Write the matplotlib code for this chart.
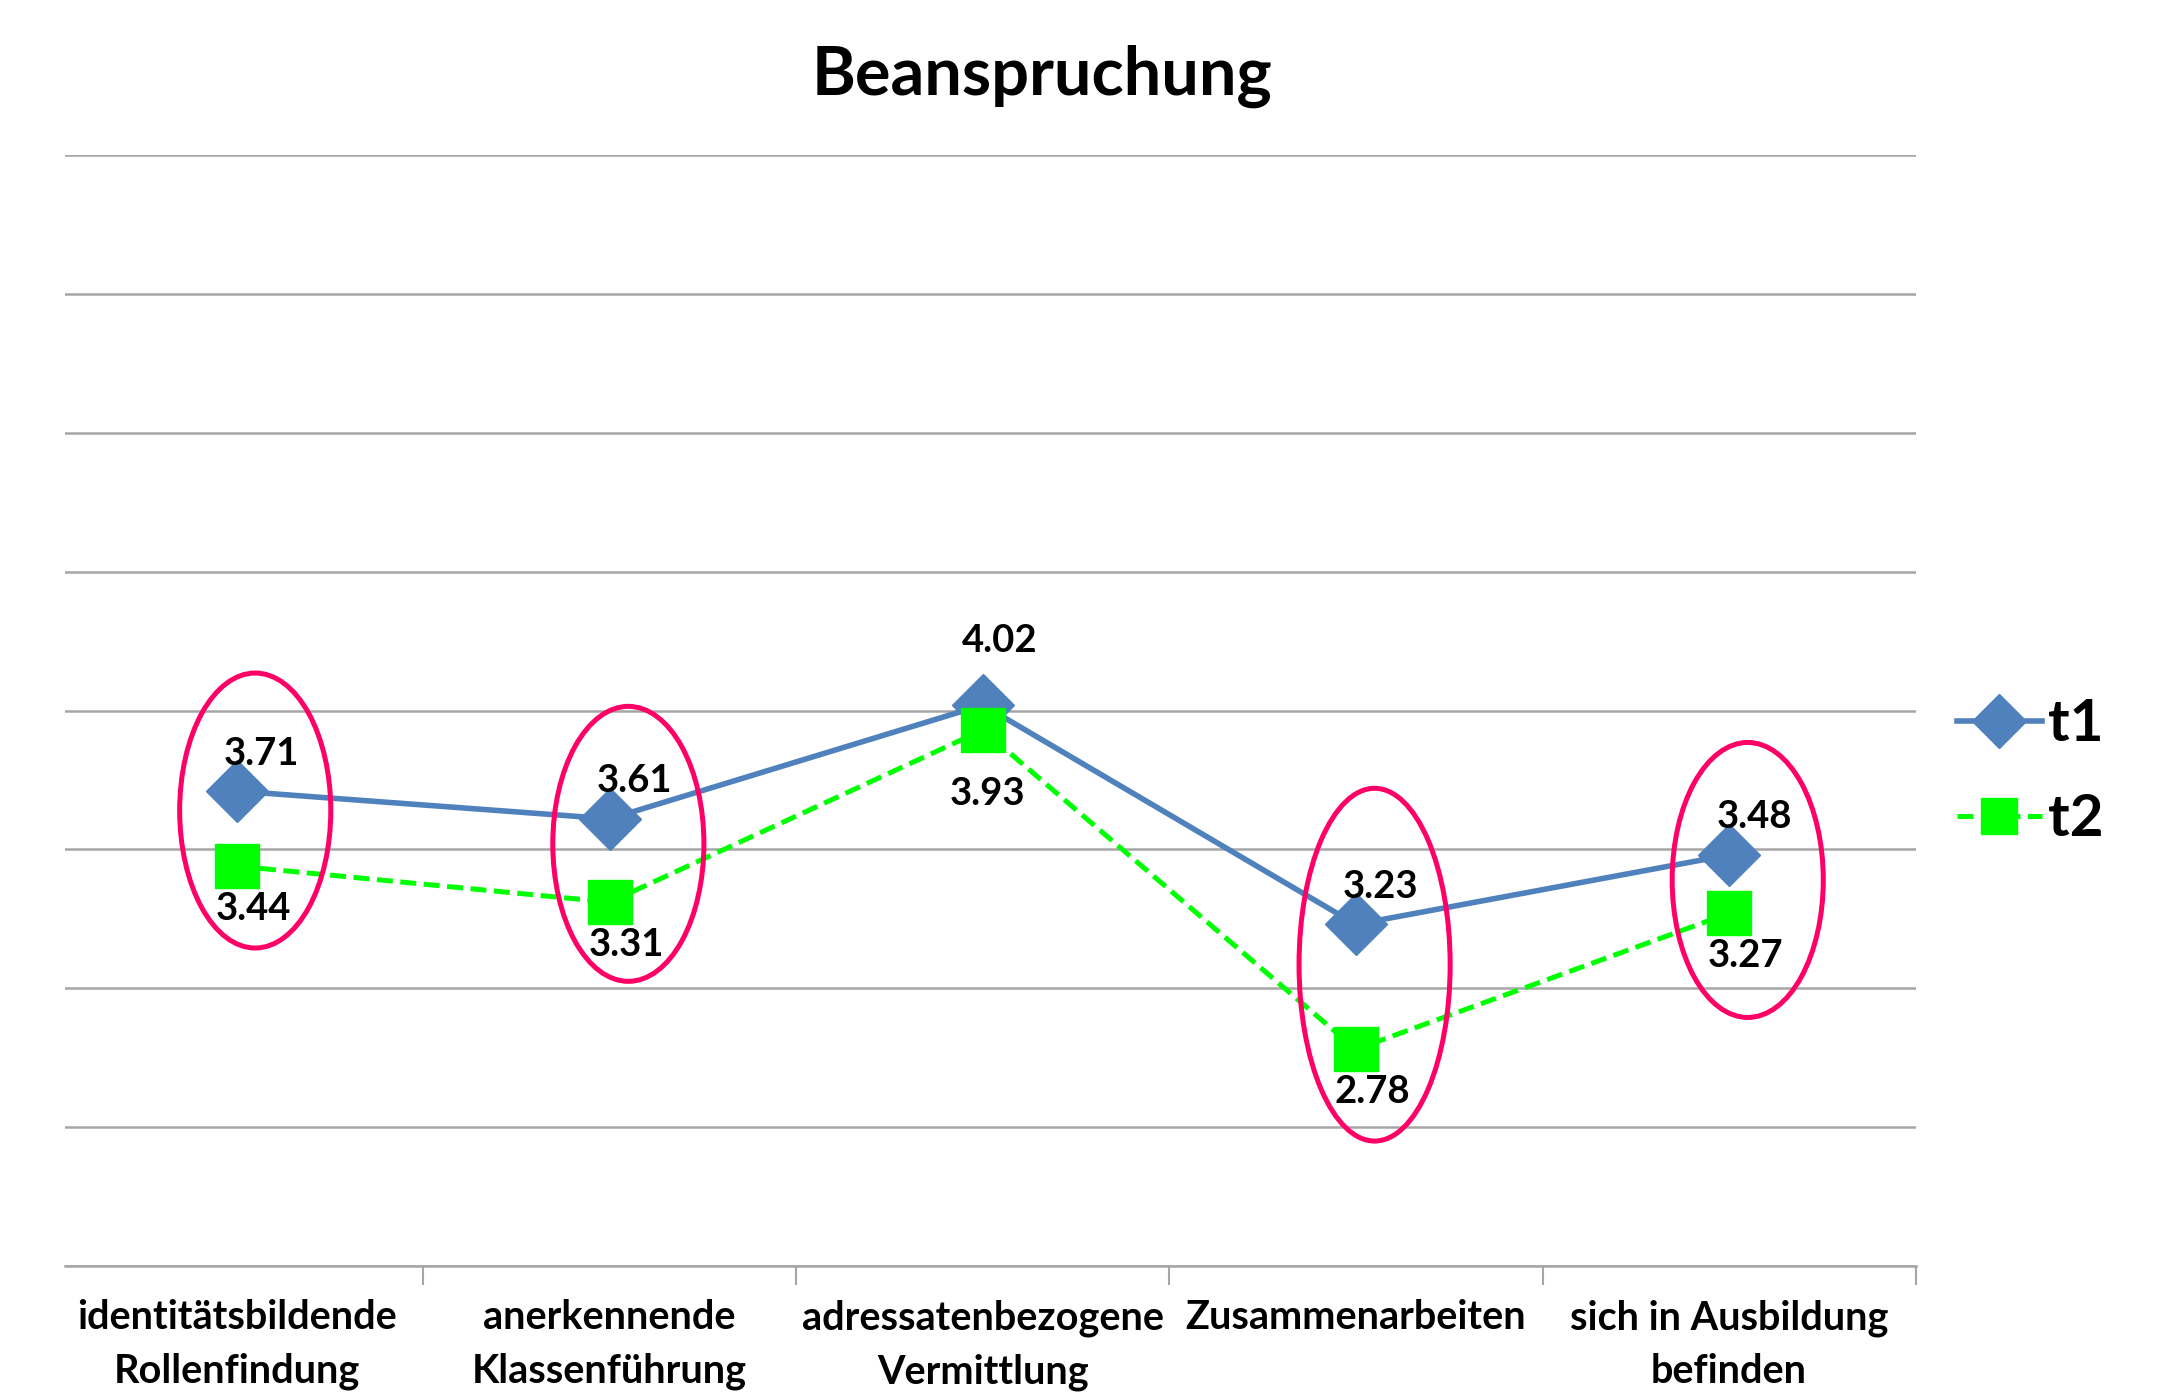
import matplotlib
matplotlib.use("Agg")
import matplotlib.pyplot as plt
from matplotlib.patches import Ellipse

categories = ["identitätsbildende\nRollenfindung", "anerkennende\nKlassenführung",
              "adressatenbezogene\nVermittlung", "Zusammenarbeiten",
              "sich in Ausbildung\nbefinden"]
t1 = [3.71, 3.61, 4.02, 3.23, 3.48]
t2 = [3.44, 3.31, 3.93, 2.78, 3.27]

# highlighted categories (red ellipses)
circled = [0, 1, 3, 4]
circle_y = [3.64, 3.52, 3.085, 3.39]
circle_h = [0.99, 0.99, 1.27, 0.99]

plt.rcParams["font.family"] = ["Lato", "DejaVu Sans"]
plt.rcParams["font.weight"] = "bold"

blue = "#4F81BD"
green = "#00FF00"
pink = "#FF0066"
grid = "#A6A6A6"

fig = plt.figure(figsize=(21.57, 13.94), dpi=100)
ax = fig.add_axes([0.0301, 0.0918, 0.858, 0.797])

x = list(range(len(categories)))
ax.plot(x, t1, color=blue, lw=4, marker="D", markersize=32, label="t1", zorder=3)
ax.plot(x, t2, color=green, lw=3.6, ls=(0, (3.2, 1.5)), marker="s", markersize=31,
        label="t2", zorder=4)

for i, v in enumerate(t1):
    off = (12, 46) if i == 2 else (18, 27)
    ax.annotate(f"{v:.2f}", (i, v), xytext=off, textcoords="offset points",
                ha="center", va="center", fontsize=27.5, fontweight="bold")
for i, v in enumerate(t2):
    off = (3, -46) if i == 2 else (12, -31)
    ax.annotate(f"{v:.2f}", (i, v), xytext=off, textcoords="offset points",
                ha="center", va="center", fontsize=27.5, fontweight="bold")

for c, cy, h in zip(circled, circle_y, circle_h):
    ax.add_patch(Ellipse((c + 0.05, cy), 0.405, h, fill=False, edgecolor=pink,
                         lw=3.6, zorder=5))

ax.set_xlim(-0.46, 4.5)
ax.set_ylim(2, 6)
ax.set_yticks([2 + 0.5 * k for k in range(9)])
ax.yaxis.grid(True, color=grid, lw=1.8)
ax.set_axisbelow(True)
ax.tick_params(axis="y", left=False, labelleft=False)

ax.set_xticks([k + 0.5 for k in range(len(categories))])
ax.set_xticks(x, minor=True)
ax.set_xticklabels([])
ax.set_xticklabels(categories, minor=True, fontsize=28.5, fontweight="bold",
                   linespacing=1.55)
ax.tick_params(axis="x", which="major", length=14, width=1.5, color=grid)
ax.tick_params(axis="x", which="minor", length=0, pad=24)

for s in ["top", "right", "left"]:
    ax.spines[s].set_visible(False)
ax.spines["bottom"].set_color(grid)
ax.spines["bottom"].set_linewidth(1.8)

fig.suptitle("Beanspruchung", x=0.483, y=0.968, va="top", fontsize=48,
             fontweight="bold")

fig.legend(loc="upper left", bbox_to_anchor=(0.883, 0.537), frameon=False,
           handlelength=1.45, handletextpad=0.1, markerscale=0.85,
           labelspacing=0.72, prop={"weight": "bold", "size": 42})

fig.savefig("out.png", dpi=100)
